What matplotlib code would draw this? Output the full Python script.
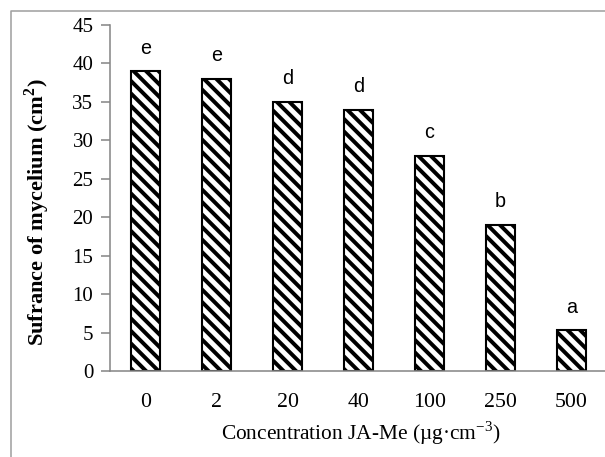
import matplotlib
matplotlib.use("Agg")
import matplotlib.pyplot as plt
from matplotlib.lines import Line2D

categories = ["0", "2", "20", "40", "100", "250", "500"]
values = [39, 38, 35, 34, 28, 19, 5.3]
letters = ["e", "e", "d", "d", "c", "b", "a"]
yticks = [0, 5, 10, 15, 20, 25, 30, 35, 40, 45]

DPI = 75
W, H = 605, 457
plt.rcParams['hatch.linewidth'] = 3.8
fig = plt.figure(figsize=(W / DPI, H / DPI), dpi=DPI)
ax = fig.add_axes([110 / W, 86 / H, 497 / W, 346 / H])

x = list(range(len(categories)))
ax.bar(x, values, width=0.42, color="white", edgecolor="black",
       linewidth=2.0, hatch="\\\\")

for xi, v, l in zip(x, values, letters):
    ax.annotate(l, (xi, v), xytext=(0, 22), textcoords="offset points",
                ha="center", va="center", fontsize=19,
                family="Liberation Sans")

ax.set_xlim(-0.5, 6.5)
ax.set_ylim(0, 45)
ax.set_yticks(yticks)
ax.set_yticklabels([str(t) for t in yticks], family="Liberation Serif",
                   fontsize=20)
ax.set_xticks(x)
ax.set_xticklabels(categories, family="Liberation Serif", fontsize=21)
ax.tick_params(axis="x", length=0, pad=21)
ax.tick_params(axis="y", length=8.5, width=1.5, color="#868686", pad=7.5)
for s in ["top", "right"]:
    ax.spines[s].set_visible(False)
for s in ["left", "bottom"]:
    ax.spines[s].set_color("#868686")
    ax.spines[s].set_linewidth(1.5)

fig.text(37 / W, 1 - 212 / H, "Sufrance of mycelium (cm$^\\mathregular{2}$)",
         rotation=90, ha="center", va="center", fontsize=21.5,
         family="Liberation Serif", fontweight="bold")
fig.text(361 / W, 1 - 433 / H, "Concentration JA-Me (\u00b5g\u00b7cm$^\\mathregular{-3}$)",
         ha="center", va="center", fontsize=20.5, family="Liberation Serif")

fig.add_artist(Line2D([11 / W, 11 / W, 1.0], [0, 1 - 11 / H, 1 - 11 / H],
                      transform=fig.transFigure, color="#a0a0a0", lw=1.5))

fig.savefig("out.png", dpi=DPI)
